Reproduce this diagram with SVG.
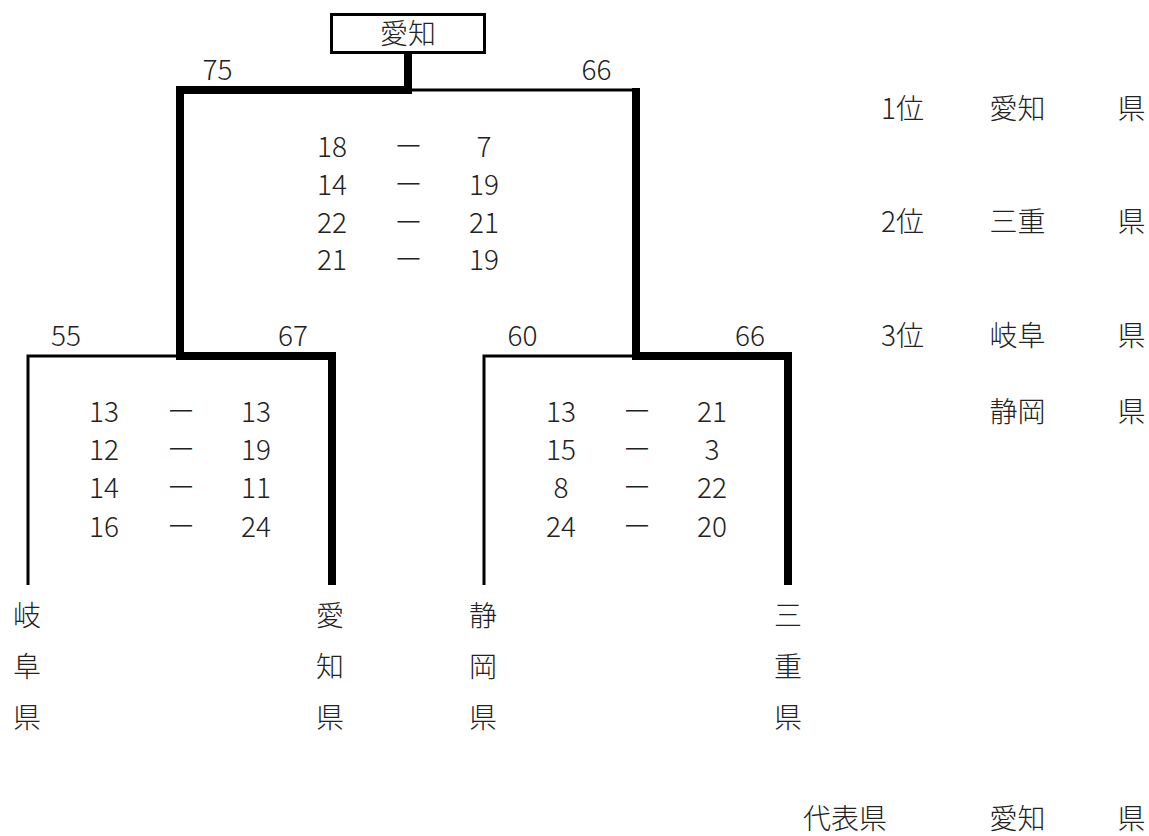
<svg xmlns="http://www.w3.org/2000/svg" width="1149" height="836" viewBox="0 0 1149 836">
<style>
text{font-family:"Noto Sans CJK JP","Noto Sans",sans-serif;font-size:28px;font-weight:300;fill:#222;text-anchor:middle}
.thin{fill:none;stroke:#000;stroke-width:3;stroke-linejoin:miter;stroke-linecap:butt}
.thick{fill:none;stroke:#000;stroke-width:8;stroke-linejoin:miter;stroke-linecap:butt}
</style>
<rect width="1149" height="836" fill="#fff"/>
<g id="connectors">
<path class="thin" d="M408,90 H638"/>
<path class="thin" d="M28,585 V356 H180"/>
<path class="thin" d="M484,585 V356 H636"/>
<path class="thick" d="M408,52 V90 H180 V356 H332 V585"/>
<path class="thick" d="M788,585 V356 H636 V88"/>
</g>
<g id="winner">
<rect x="331.5" y="14.5" width="153" height="38" fill="#fff" stroke="#000" stroke-width="3"/>
<text x="408" y="44">愛知</text>
</g>
<g id="final-scores">
<text x="217.5" y="80">75</text>
<text x="596.5" y="80">66</text>
<text x="332" y="157">18</text><text x="408.5" y="157">ー</text><text x="484" y="157">7</text>
<text x="332" y="195">14</text><text x="408.5" y="195">ー</text><text x="484" y="195">19</text>
<text x="332" y="233">22</text><text x="408.5" y="233">ー</text><text x="484" y="233">21</text>
<text x="332" y="270">21</text><text x="408.5" y="270">ー</text><text x="484" y="270">19</text>
</g>
<g id="semi1-scores">
<text x="66" y="346">55</text>
<text x="293" y="346">67</text>
<text x="104" y="422">13</text><text x="181" y="422">ー</text><text x="256" y="422">13</text>
<text x="104" y="460">12</text><text x="181" y="460">ー</text><text x="256" y="460">19</text>
<text x="104" y="498">14</text><text x="181" y="498">ー</text><text x="256" y="498">11</text>
<text x="104" y="537">16</text><text x="181" y="537">ー</text><text x="256" y="537">24</text>
</g>
<g id="semi2-scores">
<text x="522.5" y="346">60</text>
<text x="750" y="346">66</text>
<text x="561" y="422">13</text><text x="637" y="422">ー</text><text x="712" y="422">21</text>
<text x="561" y="460">15</text><text x="637" y="460">ー</text><text x="712" y="460">3</text>
<text x="561" y="498">8</text><text x="637" y="498">ー</text><text x="712" y="498">22</text>
<text x="561" y="537">24</text><text x="637" y="537">ー</text><text x="712" y="537">20</text>
</g>
<g id="team-gifu"><text x="27" y="626">岐</text><text x="27" y="677">阜</text><text x="27" y="728">県</text></g>
<g id="team-aichi"><text x="330" y="626">愛</text><text x="330" y="677">知</text><text x="330" y="728">県</text></g>
<g id="team-shizuoka"><text x="483" y="626">静</text><text x="483" y="677">岡</text><text x="483" y="728">県</text></g>
<g id="team-mie"><text x="788" y="626">三</text><text x="788" y="677">重</text><text x="788" y="728">県</text></g>
<g id="ranking">
<text x="902.5" y="119">1位</text><text x="1017.5" y="119">愛知</text><text x="1131.5" y="119">県</text>
<text x="902.5" y="232">2位</text><text x="1017.5" y="232">三重</text><text x="1131.5" y="232">県</text>
<text x="902.5" y="346">3位</text><text x="1017.5" y="346">岐阜</text><text x="1131.5" y="346">県</text>
<text x="1017.5" y="422">静岡</text><text x="1131.5" y="422">県</text>
</g>
<g id="representative">
<text x="845" y="829">代表県</text><text x="1017.5" y="829">愛知</text><text x="1131.5" y="829">県</text>
</g>
</svg>
